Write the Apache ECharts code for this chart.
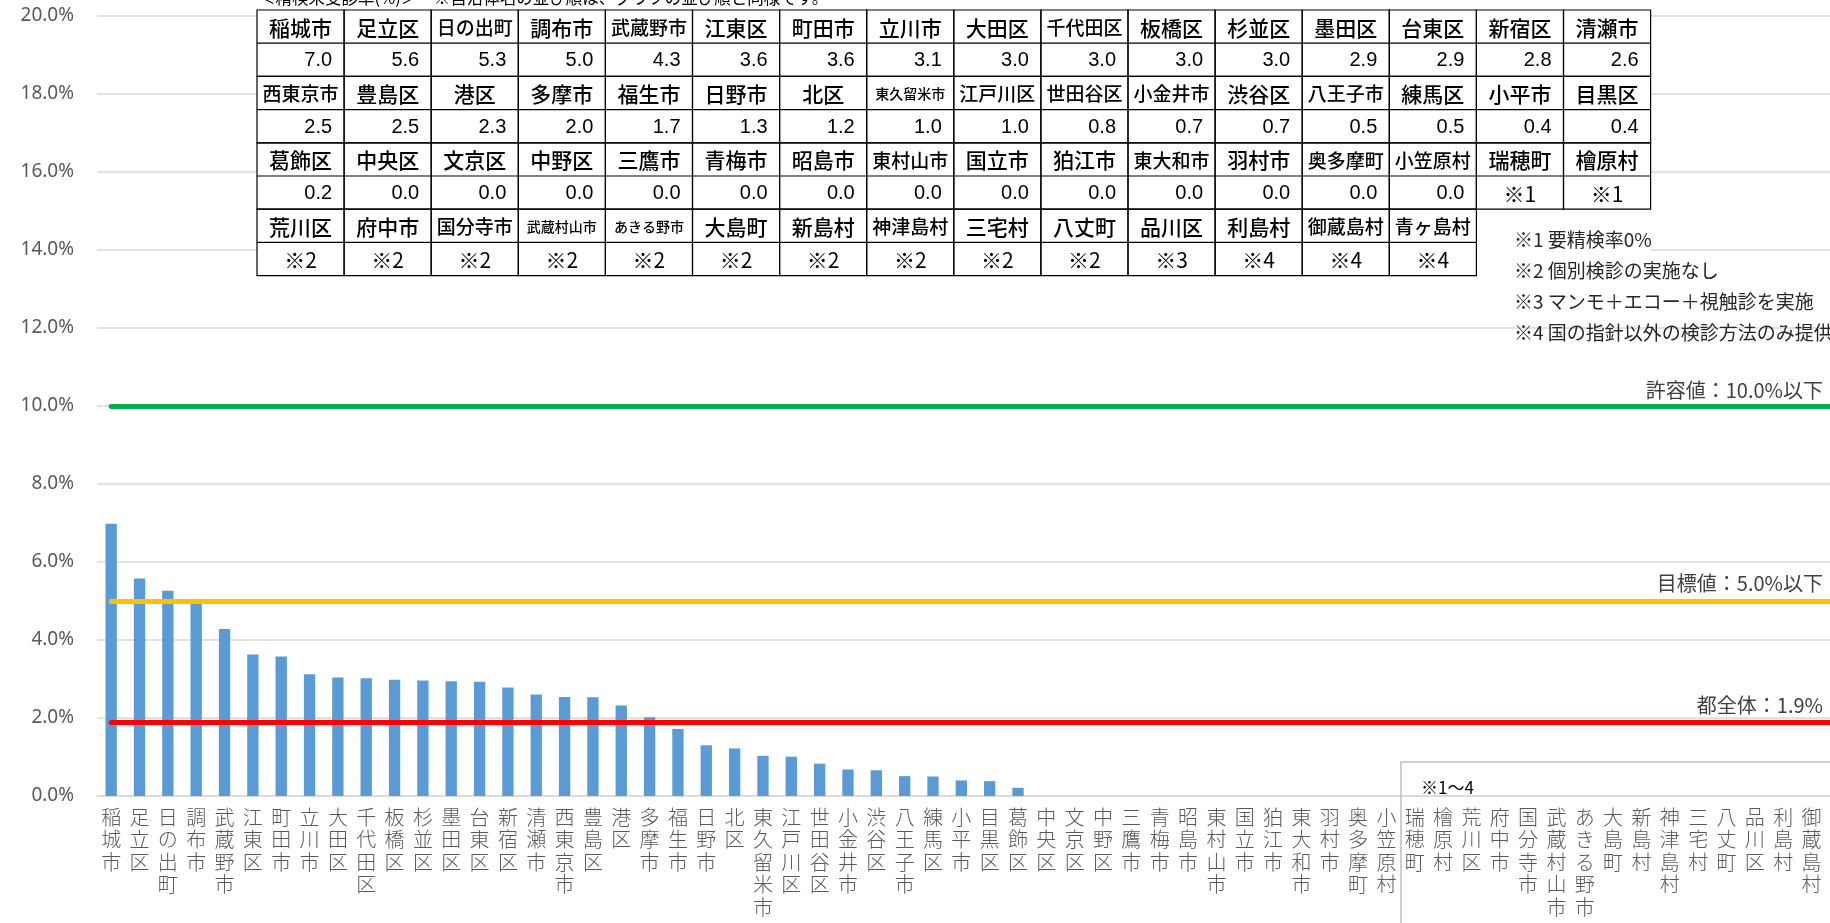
<!DOCTYPE html>
<html>
<head>
<meta charset="utf-8">
<script src="https://cdn.jsdelivr.net/npm/echarts@6/dist/echarts.min.js"></script>
<style>
  html, body { margin: 0; padding: 0; overflow: hidden; background: #fff; }
  /* the plot runs a little past the window on the right, like the original */
  #main { position: absolute; left: 0; top: 0; width: 1870px; height: 923px; }
</style>
</head>
<body>
<div id="main"></div>
<script>
  // 自治体名（グラフの並び順）
  const names = ['稲城市', '足立区', '日の出町', '調布市', '武蔵野市', '江東区', '町田市', '立川市',
    '大田区', '千代田区', '板橋区', '杉並区', '墨田区', '台東区', '新宿区', '清瀬市',
    '西東京市', '豊島区', '港区', '多摩市', '福生市', '日野市', '北区', '東久留米市',
    '江戸川区', '世田谷区', '小金井市', '渋谷区', '八王子市', '練馬区', '小平市', '目黒区',
    '葛飾区', '中央区', '文京区', '中野区', '三鷹市', '青梅市', '昭島市', '東村山市',
    '国立市', '狛江市', '東大和市', '羽村市', '奥多摩町', '小笠原村', '瑞穂町', '檜原村',
    '荒川区', '府中市', '国分寺市', '武蔵村山市', 'あきる野市', '大島町', '新島村', '神津島村',
    '三宅村', '八丈町', '品川区', '利島村', '御蔵島村', '青ヶ島村'];
  // 精検未受診率(%)  数値のある自治体
  const rates = [6.98, 5.58, 5.26, 4.97, 4.28, 3.63, 3.58, 3.12,
    3.04, 3.02, 2.98, 2.96, 2.94, 2.93, 2.78, 2.60,
    2.54, 2.53, 2.32, 2.02, 1.72, 1.30, 1.22, 1.03,
    1.01, 0.83, 0.68, 0.66, 0.51, 0.50, 0.40, 0.38,
    0.21, 0, 0, 0, 0, 0, 0, 0,
    0, 0, 0, 0, 0, 0];
  // 残りの自治体の注記
  const noteMarks = ['※1', '※1', '※2', '※2', '※2', '※2', '※2', '※2', '※2', '※2',
    '※2', '※2', '※3', '※4', '※4', '※4'];
  const notes = ['※1 要精検率0%', '※2 個別検診の実施なし', '※3 マンモ＋エコー＋視触診を実施',
    '※4 国の指針以外の検診方法のみ提供'];
  const yTicks = { min: 0, max: 20, interval: 2 };
  const allowable = 10.0, target = 5.0, tokyoAll = 1.9;

  const barData = names.map((n, i) => i < rates.length ? rates[i] : null);

  const JP = '"Noto Sans CJK JP", "Noto Sans", sans-serif';

  // table over the top of the plot
  const tbl = { x: 257, y: 10, cw: 87.1, rh: 33.2, cols: 16 };
  const g = [];
  g.push({
    type: 'rect', z: 100, silent: true,
    shape: { x: tbl.x, y: tbl.y, width: tbl.cw * tbl.cols, height: tbl.rh * 8 },
    style: { fill: '#fff' }
  });
  names.forEach((n, i) => {
    const c = i % tbl.cols, r = Math.floor(i / tbl.cols);
    const x = tbl.x + c * tbl.cw, y = tbl.y + r * 2 * tbl.rh;
    const val = i < rates.length ? rates[i].toFixed(1) : noteMarks[i - rates.length];
    const isMark = i >= rates.length;
    const fs = n.length >= 5 ? 14 : (n.length === 4 ? 19 : 21);
    g.push({
      type: 'rect', z: 101, silent: true,
      shape: { x: x, y: y, width: tbl.cw, height: tbl.rh * 2 },
      style: { fill: 'none', stroke: '#000', lineWidth: 1.2 }
    });
    g.push({
      type: 'line', z: 101, silent: true,
      shape: { x1: x, y1: y + tbl.rh, x2: x + tbl.cw, y2: y + tbl.rh },
      style: { stroke: '#000', lineWidth: 1.2 }
    });
    g.push({
      type: 'text', z: 102, silent: true,
      style: {
        text: n, x: x + tbl.cw / 2, y: y + tbl.rh / 2 + 1,
        align: 'center', verticalAlign: 'middle',
        fontSize: fs, fontWeight: 500, fontFamily: JP, fill: '#000'
      }
    });
    g.push({
      type: 'text', z: 102, silent: true,
      style: {
        text: val,
        x: isMark ? x + tbl.cw / 2 : x + tbl.cw - 12, y: y + tbl.rh * 1.5 + 1,
        align: isMark ? 'center' : 'right', verticalAlign: 'middle',
        fontSize: isMark ? 21 : 20, fontFamily: isMark ? JP : '"Liberation Sans", Arial, sans-serif', fill: '#000'
      }
    });
  });

  // title line, mostly cut off at the top
  g.push({
    type: 'text', z: 102, silent: true,
    style: {
      text: '＜精検未受診率(%)＞　※自治体名の並び順は、グラフの並び順と同様です。',
      x: 259, y: -2, verticalAlign: 'middle', fontSize: 16.5, fontFamily: JP, fill: '#000'
    }
  });

  notes.forEach((t, k) => {
    g.push({
      type: 'text', z: 102, silent: true,
      style: { text: t, x: 1514, y: 240 + k * 31, verticalAlign: 'middle', fontSize: 19, fontFamily: JP, fill: '#262626' }
    });
  });

  // labels for the reference lines
  [['許容値：10.0%以下', 390], ['目標値：5.0%以下', 583], ['都全体：1.9%', 705]].forEach(a => {
    g.push({
      type: 'text', z: 102, silent: true,
      style: { text: a[0], x: 1823, y: a[1], align: 'right', verticalAlign: 'middle', fontSize: 20, fontFamily: JP, fill: '#404040' }
    });
  });

  // box round the ※ municipalities
  g.push({
    type: 'rect', z: 50, silent: true,
    shape: { x: 1401, y: 762, width: 600, height: 300 },
    style: { fill: 'none', stroke: '#bfbfbf', lineWidth: 1.5 }
  });
  g.push({
    type: 'text', z: 102, silent: true,
    style: { text: '※1～4', x: 1421, y: 788, verticalAlign: 'middle', fontSize: 17, fontFamily: JP, fill: '#000' }
  });

  const first = names[0], last = names[names.length - 1];
  function refLine(v, color) {
    return [
      { coord: [first, v], lineStyle: { color: color, width: 5, type: 'solid', cap: 'round' } },
      { coord: [last, v] }
    ];
  }

  const chart = echarts.init(document.getElementById('main'));
  chart.setOption({
    animation: false,
    grid: { left: 97, right: 16, top: 16, bottom: 127 },
    xAxis: {
      type: 'category',
      data: names,
      axisLine: { lineStyle: { color: '#d9d9d9', width: 1.5 } },
      axisTick: { show: false },
      axisLabel: {
        interval: 0,
        margin: 10,
        color: '#595959',
        fontSize: 20,
        lineHeight: 22.5,
        fontWeight: 300,
        fontFamily: JP,
        verticalAlign: 'top',
        formatter: v => v.split('').join('\n')
      }
    },
    yAxis: {
      type: 'value',
      min: yTicks.min,
      max: yTicks.max,
      interval: yTicks.interval,
      axisLine: { show: false },
      axisTick: { show: false },
      splitLine: { lineStyle: { color: '#d9d9d9', width: 1.5 } },
      axisLabel: {
        margin: 23,
        color: '#595959',
        fontSize: 19,
        fontFamily: '"Noto Sans", sans-serif',
        formatter: v => v.toFixed(1) + '%'
      }
    },
    series: [{
      type: 'bar',
      data: barData,
      barWidth: '40%',
      itemStyle: { color: '#5b9bd5' },
      markLine: {
        silent: true,
        symbol: ['none', 'none'],
        label: { show: false },
        data: [
          refLine(allowable, '#00b050'),
          refLine(target, '#ffc000'),
          refLine(tokyoAll, '#ff0000')
        ]
      }
    }],
    graphic: { elements: g }
  });
</script>
</body>
</html>
